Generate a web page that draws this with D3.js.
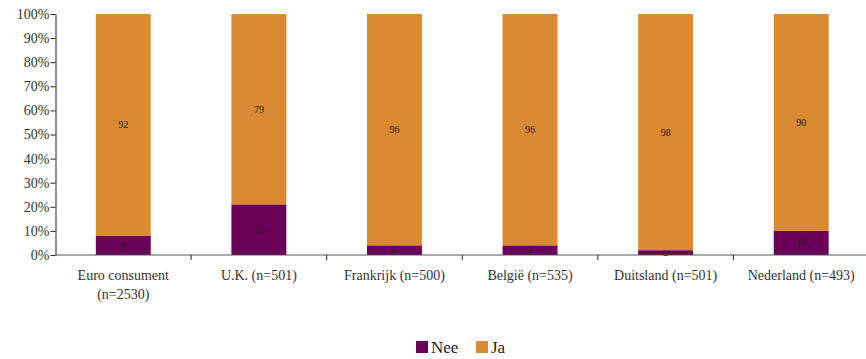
<!DOCTYPE html>
<html>
<head>
<meta charset="utf-8">
<script src="https://cdn.jsdelivr.net/npm/d3@7"></script>
<style>
  html, body { margin: 0; padding: 0; background: #fff; }
  svg { display: block; }
</style>
</head>
<body>
<svg id="chart" width="866" height="359" font-family="Liberation Serif"></svg>
<script>
// Categories (two-line labels split on "\n")
const categories = [
  "Euro consument\n(n=2530)",
  "U.K. (n=501)",
  "Frankrijk (n=500)",
  "België (n=535)",
  "Duitsland (n=501)",
  "Nederland (n=493)"
];
const nee = [8, 21, 4, 4, 2, 10];
const ja  = [92, 79, 96, 96, 98, 90];
const seriesNames = ["Nee", "Ja"];
const seriesColors = ["#6a0058", "#da8a33"];
const yTicks = [0, 10, 20, 30, 40, 50, 60, 70, 80, 90, 100];

const FONT = "Liberation Serif";
const svg = d3.select("#chart");
const plotLeft = 55.5, plotRight = 869, plotTop = 14, plotBottom = 255;

const x = d3.scaleBand().domain(categories).range([plotLeft, plotRight]).paddingInner(0.595).paddingOuter(0.2975);
const y = d3.scaleLinear().domain([0, 100]).range([plotBottom, plotTop]);

const rows = categories.map((c, i) => ({ cat: c, Nee: nee[i], Ja: ja[i] }));
const stack = d3.stack().keys(seriesNames)(rows);

// Stacked bars
const layers = svg.append("g").selectAll("g").data(stack).join("g")
  .attr("fill", (d, i) => seriesColors[i]);
layers.selectAll("rect").data(d => d).join("rect")
  .attr("x", d => x(d.data.cat))
  .attr("width", x.bandwidth())
  .attr("y", d => y(d[1]))
  .attr("height", d => y(d[0]) - y(d[1]));

// Value labels centred in each segment
layers.selectAll("text").data(d => d).join("text")
  .attr("x", d => x(d.data.cat) + x.bandwidth() / 2)
  .attr("y", d => (y(d[0]) + y(d[1])) / 2)
  .attr("dy", "0.35em")
  .attr("text-anchor", "middle")
  .attr("font-family", FONT)
  .attr("font-size", 10)
  .attr("fill", "#222")
  .text(d => d[1] - d[0]);

// Y axis
const yAxis = svg.append("g").attr("transform", `translate(${plotLeft},0)`)
  .call(d3.axisLeft(y).tickValues(yTicks).tickFormat(d => d + "%").tickSize(5).tickSizeOuter(0))
  .attr("font-family", FONT).attr("font-size", 14);
yAxis.select(".domain").attr("stroke", "#222");
yAxis.selectAll(".tick line").attr("stroke", "#222");
yAxis.selectAll(".tick text").attr("fill", "#333").attr("x", -6);

// X axis
const xAxis = svg.append("g").attr("transform", `translate(0,${plotBottom})`)
  .attr("font-family", FONT).attr("font-size", 14);
xAxis.append("line").attr("x1", plotLeft).attr("x2", 866).attr("stroke", "#555");
const boundaries = categories.slice(1).map(c => x(c) - x.step() * x.paddingInner() / 2);
xAxis.selectAll("line.tk").data(boundaries).join("line").attr("class", "tk")
  .attr("x1", d => d).attr("x2", d => d).attr("y1", 0).attr("y2", 5).attr("stroke", "#222");
xAxis.selectAll("text").data(categories).join("text")
  .attr("x", d => x(d) + x.bandwidth() / 2)
  .attr("y", 25)
  .attr("text-anchor", "middle")
  .attr("fill", "#333")
  .each(function (d) {
    const lines = d.split("\n");
    d3.select(this).selectAll("tspan").data(lines).join("tspan")
      .attr("x", x(d) + x.bandwidth() / 2)
      .attr("dy", (l, i) => i === 0 ? 0 : 19)
      .text(l => l);
  });

// Legend
const legend = svg.append("g").attr("transform", "translate(416,341)")
  .attr("font-family", FONT).attr("font-size", 17);
const items = [{ name: "Nee", color: seriesColors[0], dx: 0 }, { name: "Ja", color: seriesColors[1], dx: 60 }];
const li = legend.selectAll("g").data(items).join("g").attr("transform", d => `translate(${d.dx},0)`);
li.append("rect").attr("width", 12).attr("height", 12).attr("fill", d => d.color);
li.append("text").attr("x", 15).attr("y", 12).attr("fill", "#222").text(d => d.name);
</script>
</body>
</html>
